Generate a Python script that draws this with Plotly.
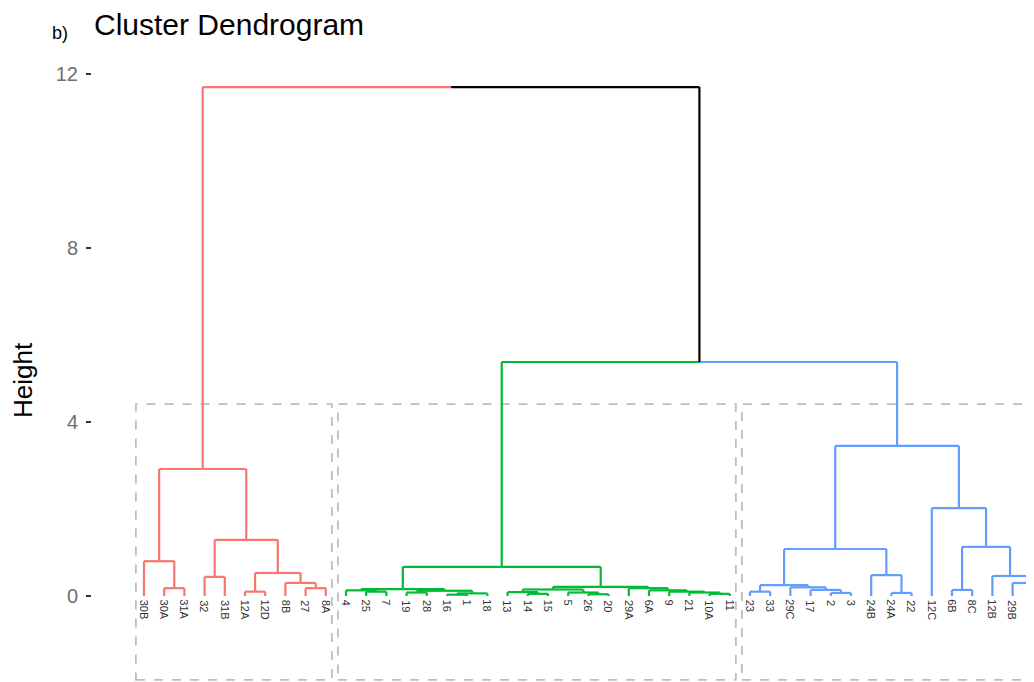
import plotly.graph_objects as go

# ---- data ----
leaf_labels = ["30B", "30A", "31A", "32", "31B", "12A", "12D", "8B", "27", "8A",
               "4", "25", "7", "19", "28", "16", "1", "18", "13", "14",
               "15", "5", "26", "20", "29A", "6A", "9", "21", "10A", "11",
               "23", "33", "29C", "17", "2", "3", "24B", "24A", "22", "12C",
               "6B", "8C", "12B", "29B", "24C", "29D"]

# merges: leaf labels or "#k" (k = earlier merge index)
merge_left = ["30A", "30B", "32", "12A", "27", "8B", "#3", "#2", "#1",
              "25", "4", "19", "16", "#12", "#11", "#10", "14", "13", "26", "5", "#17",
              "10A", "21", "9", "6A", "29A", "#20", "#15",
              "23", "2", "17", "29C", "#28", "24A", "24B", "#32", "6B", "24C", "29B",
              "12B", "#36", "12C", "#35",
              "#27", "#8"]
merge_right = ["31A", "#0", "31B", "12D", "8A", "#4", "#5", "#6", "#7",
               "7", "#9", "28", "1", "18", "#13", "#14", "15", "#16", "20", "#18", "#19",
               "11", "#21", "#22", "#23", "#24", "#25", "#26",
               "33", "3", "#29", "#30", "#31", "22", "#33", "#34", "8C", "29D", "#37",
               "#38", "#39", "#40", "#41",
               "#42", "#43"]
merge_height = [0.18, 0.80, 0.44, 0.10, 0.18, 0.30, 0.53, 1.29, 2.92,
                0.10, 0.13, 0.08, 0.03, 0.06, 0.12, 0.16, 0.05, 0.09, 0.04, 0.08, 0.15,
                0.05, 0.08, 0.10, 0.13, 0.18, 0.21, 0.67,
                0.10, 0.07, 0.14, 0.20, 0.25, 0.07, 0.48, 1.08, 0.14, 0.15, 0.30,
                0.46, 1.13, 2.02, 3.45,
                5.38, 11.70]

cluster_sizes = [10, 20, 16]
cluster_colors = ["#F8766D", "#00BA38", "#619CFF"]
y_ticks = [0, 4, 8, 12]
rect_top = 4.41
rect_bottom = -1.93

FONT = "Liberation Sans, Arial, sans-serif"

# ---- build dendrogram geometry ----
leaf_index = {lab: i for i, lab in enumerate(leaf_labels)}
leaf_cluster = []
for c, n in enumerate(cluster_sizes):
    leaf_cluster += [c] * n

node_x, node_h, node_col = {}, {}, {}
for lab, i in leaf_index.items():
    node_x[lab] = float(i)
    node_h[lab] = 0.0
    node_col[lab] = cluster_colors[leaf_cluster[i]]

segments = {}  # color -> (xs, ys)


def add_seg(col, x0, y0, x1, y1):
    xs, ys = segments.setdefault(col, ([], []))
    xs += [x0, x1, None]
    ys += [y0, y1, None]


for k, (a, b, h) in enumerate(zip(merge_left, merge_right, merge_height)):
    key = "#%d" % k
    xa, xb = node_x[a], node_x[b]
    xm = (xa + xb) / 2
    ca, cb = node_col[a], node_col[b]
    add_seg(ca, xa, node_h[a], xa, h)
    add_seg(ca, xa, h, xm, h)
    add_seg(cb, xb, node_h[b], xb, h)
    add_seg(cb, xm, h, xb, h)
    node_x[key] = xm
    node_h[key] = h
    node_col[key] = ca if ca == cb else "#000000"

fig = go.Figure()
for col, (xs, ys) in segments.items():
    fig.add_trace(go.Scatter(x=xs, y=ys, mode="lines",
                             line=dict(color=col, width=2.2),
                             hoverinfo="skip", showlegend=False))

# dashed cluster rectangles
start = 0
for n in cluster_sizes:
    fig.add_shape(type="rect", xref="x", yref="y",
                  x0=start - 0.4, x1=start + n - 1 + 0.3,
                  y0=rect_bottom, y1=rect_top,
                  line=dict(color="#BEBEBE", width=1.8, dash="dash"),
                  fillcolor="rgba(0,0,0,0)", layer="below")
    start += n

# leaf labels
for i, lab in enumerate(leaf_labels):
    fig.add_annotation(x=i, y=-0.04, xref="x", yref="y", text=lab,
                       textangle=90, showarrow=False,
                       xanchor="center", yanchor="top",
                       font=dict(size=11, color="#333333", family=FONT))

# titles
fig.add_annotation(x=0, y=1.0396, xref="paper", yref="paper",
                   text="Cluster Dendrogram", showarrow=False,
                   xanchor="left", yanchor="middle",
                   font=dict(size=30, color="#000000", family=FONT))
fig.add_annotation(x=-0.0445, y=1.027, xref="paper", yref="paper",
                   text="b)", showarrow=False,
                   xanchor="left", yanchor="middle",
                   font=dict(size=18, color="#000000", family=FONT))
fig.add_annotation(x=-0.0732, y=0.478, xref="paper", yref="paper",
                   text="Height", showarrow=False, textangle=-90,
                   xanchor="center", yanchor="middle",
                   font=dict(size=26, color="#000000", family=FONT))

# page body has an 8px margin, so the figure is 8px smaller than the window
fig.update_layout(
    width=1026, height=674,
    margin=dict(l=84, r=0, t=42, b=0),
    plot_bgcolor="white", paper_bgcolor="white",
    showlegend=False,
    xaxis=dict(range=[-2.574, 44.06], visible=False, fixedrange=True),
    yaxis=dict(range=[-1.977, 12.552], tickvals=y_ticks,
               ticktext=[str(v) for v in y_ticks],
               ticks="outside", ticklen=5, tickwidth=1.5, tickcolor="#333333",
               ticklabelstandoff=4,
               tickfont=dict(size=20, color="#6E6E6E", family=FONT),
               showgrid=False, zeroline=False, showline=False),
)

fig.write_html("out.html")
